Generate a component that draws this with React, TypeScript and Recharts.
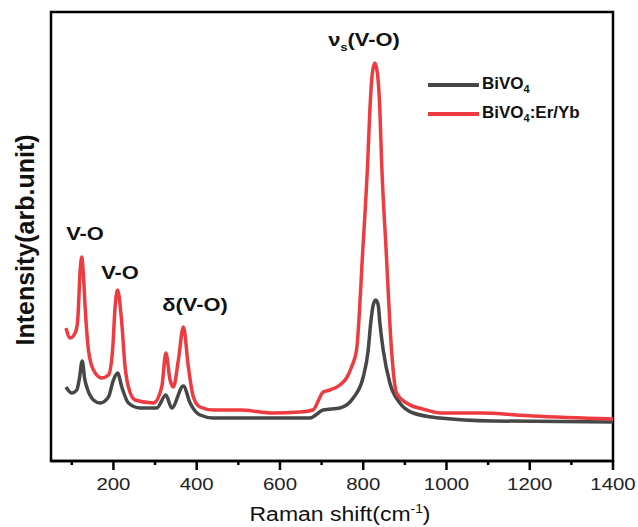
import React from "react"
import { LineChart, Line, XAxis, YAxis, ReferenceArea } from "recharts"

// Raman shift (cm-1) and intensity (arb. unit)
const shiftBiVO4 = [
  86, 100, 112, 118, 125, 131, 136, 152, 168, 188, 200, 210, 220, 236, 264, 304, 326, 340, 368,
  384, 408, 440, 560, 672, 704, 744, 776, 800, 812, 818, 824, 830, 836, 840, 848, 864, 888, 920,
  984, 1112, 1400,
]
const intensityBiVO4 = [
  74, 68, 71, 82, 100, 82, 74, 61, 58, 64, 81, 88, 74, 58, 53, 53, 66, 53, 75, 58, 46, 43, 43, 43,
  51, 53, 63, 84, 111, 138, 156, 161, 156, 138, 111, 78, 58, 48, 43, 40, 39,
]

const shiftErYb = [
  86, 96, 108, 114, 120, 124, 128, 132, 140, 152, 172, 188, 198, 204, 210, 220, 228, 236, 252, 296,
  316, 326, 336, 344, 356, 368, 380, 392, 408, 440, 504, 584, 648, 679, 704, 720, 744, 760, 772,
  784, 799, 811, 816, 822, 828, 834, 840, 844, 855, 868, 880, 904, 952, 984, 1080, 1208, 1400,
]
const intensityErYb = [
  133, 123, 128, 140, 190, 204, 185, 154, 111, 91, 83, 86, 111, 154, 171, 138, 94, 74, 61, 58, 74,
  108, 81, 74, 101, 134, 94, 64, 54, 51, 51, 48, 49, 51, 69, 71, 76, 83, 94, 111, 211, 301, 351,
  388, 398, 388, 351, 301, 211, 111, 68, 58, 51, 48, 48, 45, 42,
]

const tickValues = [100, 200, 300, 400, 500, 600, 700, 800, 900, 1000, 1100, 1200, 1300, 1400]

const blackData = shiftBiVO4.map((s, i) => ({ shift: s, value: intensityBiVO4[i] }))
const redData = shiftErYb.map((s, i) => ({ shift: s, value: intensityErYb[i] }))

const font = "'Liberation Sans', Arial, sans-serif"
const RED = "#ee3b40"
const GREY = "#474747"

const RamanTick = ({ x, y, payload }: any) => {
  const major = payload.value % 200 === 0
  return (
    <g>
      <line x1={x} x2={x} y1={y} y2={y + (major ? 9 : 4)} stroke="#000" strokeWidth={2.5} />
      {major && (
        <text
          transform={`translate(${x},${y + 29}) scale(1.2,1)`}
          textAnchor="middle"
          fontSize={17}
          fontFamily={font}
          fill="#222"
        >
          {payload.value}
        </text>
      )}
    </g>
  )
}

const note = (left: number, top: number, size: number, bold: boolean): React.CSSProperties => ({
  position: "absolute",
  left,
  top,
  transform: "translate(-50%,-50%) scaleX(1.15)",
  fontFamily: font,
  fontSize: size,
  fontWeight: bold ? "bold" : "normal",
  color: "#111",
  whiteSpace: "nowrap",
})

export default function App() {
  return (
    <div style={{ position: "absolute", left: 0, top: 0, width: 638, height: 527, background: "#fff" }}>
      <LineChart width={638} height={527} margin={{ top: 12, right: 25, bottom: 0, left: 51 }}>
        <XAxis
          dataKey="shift"
          type="number"
          domain={[50, 1400]}
          ticks={tickValues}
          allowDataOverflow
          height={66}
          tickSize={0}
          tickMargin={0}
          tickLine={false}
          tick={<RamanTick />}
          axisLine={{ stroke: "#000", strokeWidth: 2.5 }}
        />
        <YAxis
          type="number"
          domain={[0, 449]}
          width={0}
          tick={false}
          tickLine={false}
          axisLine={{ stroke: "#000", strokeWidth: 2.5 }}
        />
        {/* frame around the plot */}
        <ReferenceArea
          x1={50}
          x2={1400}
          y1={0}
          y2={449}
          fill="none"
          fillOpacity={0}
          stroke="#000"
          strokeWidth={2.5}
          ifOverflow="visible"
        />
        <Line
          data={blackData}
          dataKey="value"
          type="monotone"
          stroke={GREY}
          strokeWidth={3.5}
          dot={false}
          isAnimationActive={false}
        />
        <Line
          data={redData}
          dataKey="value"
          type="monotone"
          stroke={RED}
          strokeWidth={3.5}
          dot={false}
          isAnimationActive={false}
        />
      </LineChart>

      <div
        style={{
          position: "absolute",
          left: 25,
          top: 240,
          transform: "translate(-50%,-50%) rotate(-90deg)",
          fontFamily: font,
          fontSize: 25,
          fontWeight: "bold",
          color: "#111",
          whiteSpace: "nowrap",
        }}
      >
        Intensity(arb.unit)
      </div>
      <div style={note(340, 514, 20, false)}>
        Raman shift(cm<sup style={{ fontSize: 12 }}>-1</sup>)
      </div>

      <div style={note(85, 234, 19, true)}>V-O</div>
      <div style={note(120, 273, 19, true)}>V-O</div>
      <div style={note(195, 305, 19, true)}>δ(V-O)</div>
      <div style={note(364, 41, 19, true)}>
        ν<sub style={{ fontSize: 11 }}>s</sub>(V-O)
      </div>

      <div style={{ position: "absolute", left: 428, top: 72, fontFamily: font, fontSize: 17, fontWeight: "bold", color: "#111" }}>
        <div style={{ display: "flex", alignItems: "center", height: 26 }}>
          <span style={{ display: "inline-block", width: 51, height: 4, background: GREY, marginRight: 3 }} />
          <span>
            BiVO<sub style={{ fontSize: 11 }}>4</sub>
          </span>
        </div>
        <div style={{ display: "flex", alignItems: "center", height: 26, marginTop: 3 }}>
          <span style={{ display: "inline-block", width: 51, height: 4, background: RED, marginRight: 3 }} />
          <span>
            BiVO<sub style={{ fontSize: 11 }}>4</sub>:Er/Yb
          </span>
        </div>
      </div>
    </div>
  )
}
